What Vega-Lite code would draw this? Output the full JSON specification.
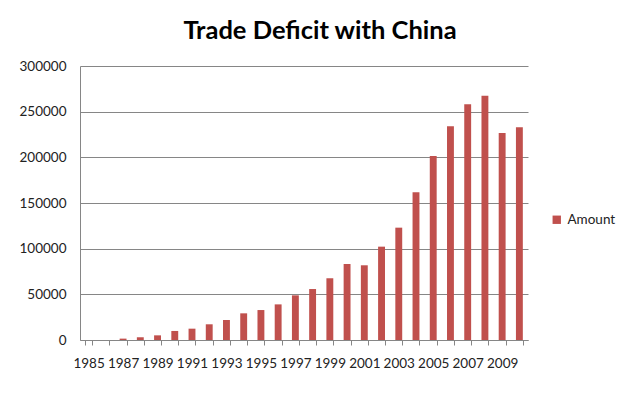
{
  "$schema": "https://vega.github.io/schema/vega-lite/v6.json",
  "width": 448,
  "height": 274,
  "autosize": {"type": "none"},
  "padding": {"left": 80, "top": 66, "right": 112, "bottom": 55},
  "background": "white",
  "title": {"text": "Trade Deficit with China", "font": "Lato", "fontSize": 25.5, "fontWeight": "bold", "color": "#000000", "anchor": "middle", "dx": 16, "offset": 15},
  "data": {"values": [
    {"year": 1985, "amount": 0},
    {"year": 1986, "amount": 0},
    {"year": 1987, "amount": 1500},
    {"year": 1988, "amount": 3000},
    {"year": 1989, "amount": 5100},
    {"year": 1990, "amount": 9900},
    {"year": 1991, "amount": 12400},
    {"year": 1992, "amount": 17200},
    {"year": 1993, "amount": 21900},
    {"year": 1994, "amount": 29200},
    {"year": 1995, "amount": 32800},
    {"year": 1996, "amount": 39000},
    {"year": 1997, "amount": 48900},
    {"year": 1998, "amount": 55800},
    {"year": 1999, "amount": 67600},
    {"year": 2000, "amount": 83200},
    {"year": 2001, "amount": 81800},
    {"year": 2002, "amount": 102200},
    {"year": 2003, "amount": 123000},
    {"year": 2004, "amount": 161700},
    {"year": 2005, "amount": 201500},
    {"year": 2006, "amount": 234000},
    {"year": 2007, "amount": 258100},
    {"year": 2008, "amount": 267500},
    {"year": 2009, "amount": 226600},
    {"year": 2010, "amount": 232900}
  ]},
  "mark": {"type": "bar"},
  "encoding": {
    "x": {"field": "year", "type": "ordinal", "title": null,
      "scale": {"paddingInner": 0.6, "paddingOuter": 0.3},
      "axis": {"labelAngle": 0, "bandPosition": 0, "tickBand": "extent", "tickSize": 5, "labelPadding": 11,
        "labelExpr": "datum.value % 2 == 1 ? datum.label : ''", "labelFont": "Lato", "labelFontSize": 13.5, "labelColor": "#222222",
        "domainColor": "#868686", "tickColor": "#868686", "labelOverlap": false, "grid": false}},
    "y": {"field": "amount", "type": "quantitative", "title": null,
      "scale": {"domain": [0, 300000], "nice": false},
      "axis": {"values": [0, 50000, 100000, 150000, 200000, 250000, 300000], "ticks": false, "labelPadding": 14,
        "labelFont": "Lato", "labelFontSize": 13.5, "labelColor": "#222222", "domainColor": "#868686",
        "gridColor": "#868686", "gridOpacity": 1, "format": "d"}},
    "color": {"datum": "Amount", "scale": {"range": ["#C0504D"]},
      "legend": {"title": null, "orient": "none", "legendX": 470, "legendY": 147, "symbolType": "square", "symbolSize": 70,
        "symbolStrokeWidth": 0, "labelFont": "Lato", "labelFontSize": 13.5, "labelColor": "#222222", "labelOffset": 4}}
  },
  "config": {"view": {"stroke": null}, "axis": {"domainWidth": 1, "gridWidth": 1}}
}
